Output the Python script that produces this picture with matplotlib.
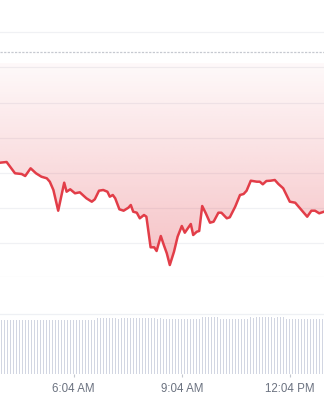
import numpy as np
import matplotlib
matplotlib.use("Agg")
import matplotlib.pyplot as plt

plt.rcParams['font.family'] = ['Liberation Sans', 'DejaVu Sans']

# price samples, time in minutes since midnight (window starts 04:01)
t_start = 241
t_end = 781
price_min = [0, 11, 25, 36, 42, 51, 60, 69, 78, 83,
             89, 97, 107, 111, 117, 125, 133, 144, 153, 158,
             165, 172, 179, 183, 188, 192, 199, 206, 214, 218,
             222, 228, 233, 240, 244, 251, 257, 261, 268, 273,
             278, 283, 290, 296, 303, 308, 318, 322, 328, 332,
             337, 343, 350, 356, 364, 369, 378, 383, 392, 400,
             406, 411, 418, 428, 433, 438, 444, 451, 458, 464,
             472, 483, 492, 500, 512, 519, 525, 532, 540]
price = [23.73, 23.80, 22.67, 22.60, 22.40, 23.17, 22.67, 22.33, 22.17, 21.83,
         21.00, 18.93, 21.73, 20.83, 21.07, 20.67, 20.77, 20.17, 19.83, 20.07,
         20.93, 21.00, 20.83, 20.33, 20.50, 20.17, 19.07, 18.93, 19.23, 19.50,
         18.83, 18.73, 18.17, 18.50, 18.33, 15.27, 15.27, 14.90, 16.40, 15.50,
         14.67, 13.50, 14.83, 16.33, 17.40, 16.73, 17.60, 16.50, 16.83, 16.90,
         19.40, 18.67, 17.73, 17.83, 18.73, 18.73, 18.17, 18.27, 19.33, 20.50,
         20.60, 20.93, 21.93, 21.83, 21.83, 21.57, 21.90, 21.93, 22.00, 21.60,
         21.17, 19.83, 19.73, 19.17, 18.33, 18.93, 18.93, 18.67, 18.83]
open_price = 34.8
grid_levels = [36.8, 33.3, 29.75, 26.2, 22.7, 19.2, 15.7, 12.33]

# 5 minute volume bars
volume = [54.0, 54.2, 53.8, 54.1, 54.0, 53.9, 54.3, 54.0, 54.1, 53.8,
          54.0, 54.2, 54.0, 53.9, 54.1, 54.0, 54.3, 54.0, 53.8, 54.1,
          54.0, 54.2, 53.9, 54.0, 54.1, 54.0, 53.8, 54.2, 54.0, 54.1,
          54.0, 54.3,
          55.6, 55.8, 55.7, 55.9, 55.6, 55.7, 55.8, 55.5, 55.7, 55.9,
          55.7, 55.6, 55.8, 55.7, 55.6, 55.9, 55.7, 55.8, 55.6, 55.7,
          55.5, 55.8,
          55.0, 54.9, 55.1, 55.0, 54.8, 55.1, 55.0, 54.9, 55.2, 55.0,
          54.9, 55.1, 55.0,
          56.6, 56.8, 56.7, 56.9, 56.6, 56.7,
          55.4, 55.2, 55.3, 55.5, 55.3, 55.2, 55.4, 55.3, 55.1, 55.4,
          56.7, 56.5, 56.8, 56.7, 56.9, 56.6, 56.7, 56.8, 56.5, 56.7,
          56.6, 56.8,
          55.1, 54.9, 55.0, 55.2, 54.8, 55.0, 55.1, 54.9, 55.0, 55.2,
          55.0, 54.9, 55.1]

tick_pos = [364, 544, 724]
tick_labels = ["6:04 AM", "9:04 AM", "12:04 PM"]

red = '#e23d48'
t = t_start + np.array(price_min)

fig = plt.figure(figsize=(3.24, 4.0), dpi=100)

# price panel
ax = fig.add_axes([0, 1 - 277/400, 1, 277/400])
ax.set_xlim(t_start, t_end)
ax.set_ylim(12.3, 40)
ax.axis('off')
for g in grid_levels:
    ax.axhline(g, color='#f0f1f4', lw=0.9, zorder=0)
ax.axhline(open_price, color='#c6c9d0', lw=0.9, dashes=(1.8, 1.1), zorder=1)

# gradient fill between line and top of fill region
fill_top = 33.7
poly = ax.fill_between(t, price, fill_top, facecolor='none', edgecolor='none')
ys = np.linspace(fill_top, 12.3, 256)
alpha = 0.03 + (fill_top - ys) * 0.0143
rgba = np.zeros((256, 1, 4))
rgba[:, 0, :3] = matplotlib.colors.to_rgb(red)
rgba[:, 0, 3] = alpha
im = ax.imshow(rgba, extent=[t_start, t_end, 12.3, fill_top], aspect='auto',
               origin='upper', zorder=2)
im.set_clip_path(poly.get_paths()[0], transform=ax.transData)

ax.plot(t, price, color=red, lw=1.8, zorder=3, solid_joinstyle='round')

# volume panel
vax = fig.add_axes([0, 26/400, 1, 60.3/400])
vt = t_start + 2.5 + 5 * np.arange(len(volume))
vax.bar(vt, volume, width=2.7, color='#d2d6e2', edgecolor='none')
vax.set_xlim(t_start, t_end)
vax.set_ylim(0, 60.3)
for s in ['left', 'right', 'bottom']:
    vax.spines[s].set_visible(False)
vax.spines['top'].set_color('#eef0f4')
vax.spines['top'].set_linewidth(0.9)
vax.set_yticks([])
vax.set_xticks(tick_pos)
vax.set_xticklabels(tick_labels)
vax.tick_params(axis='x', length=2.2, width=0.8, color='#c3c7ce',
                labelcolor='#6b7280', labelsize=8.3, pad=4.5)

fig.savefig('out.png', dpi=100)
